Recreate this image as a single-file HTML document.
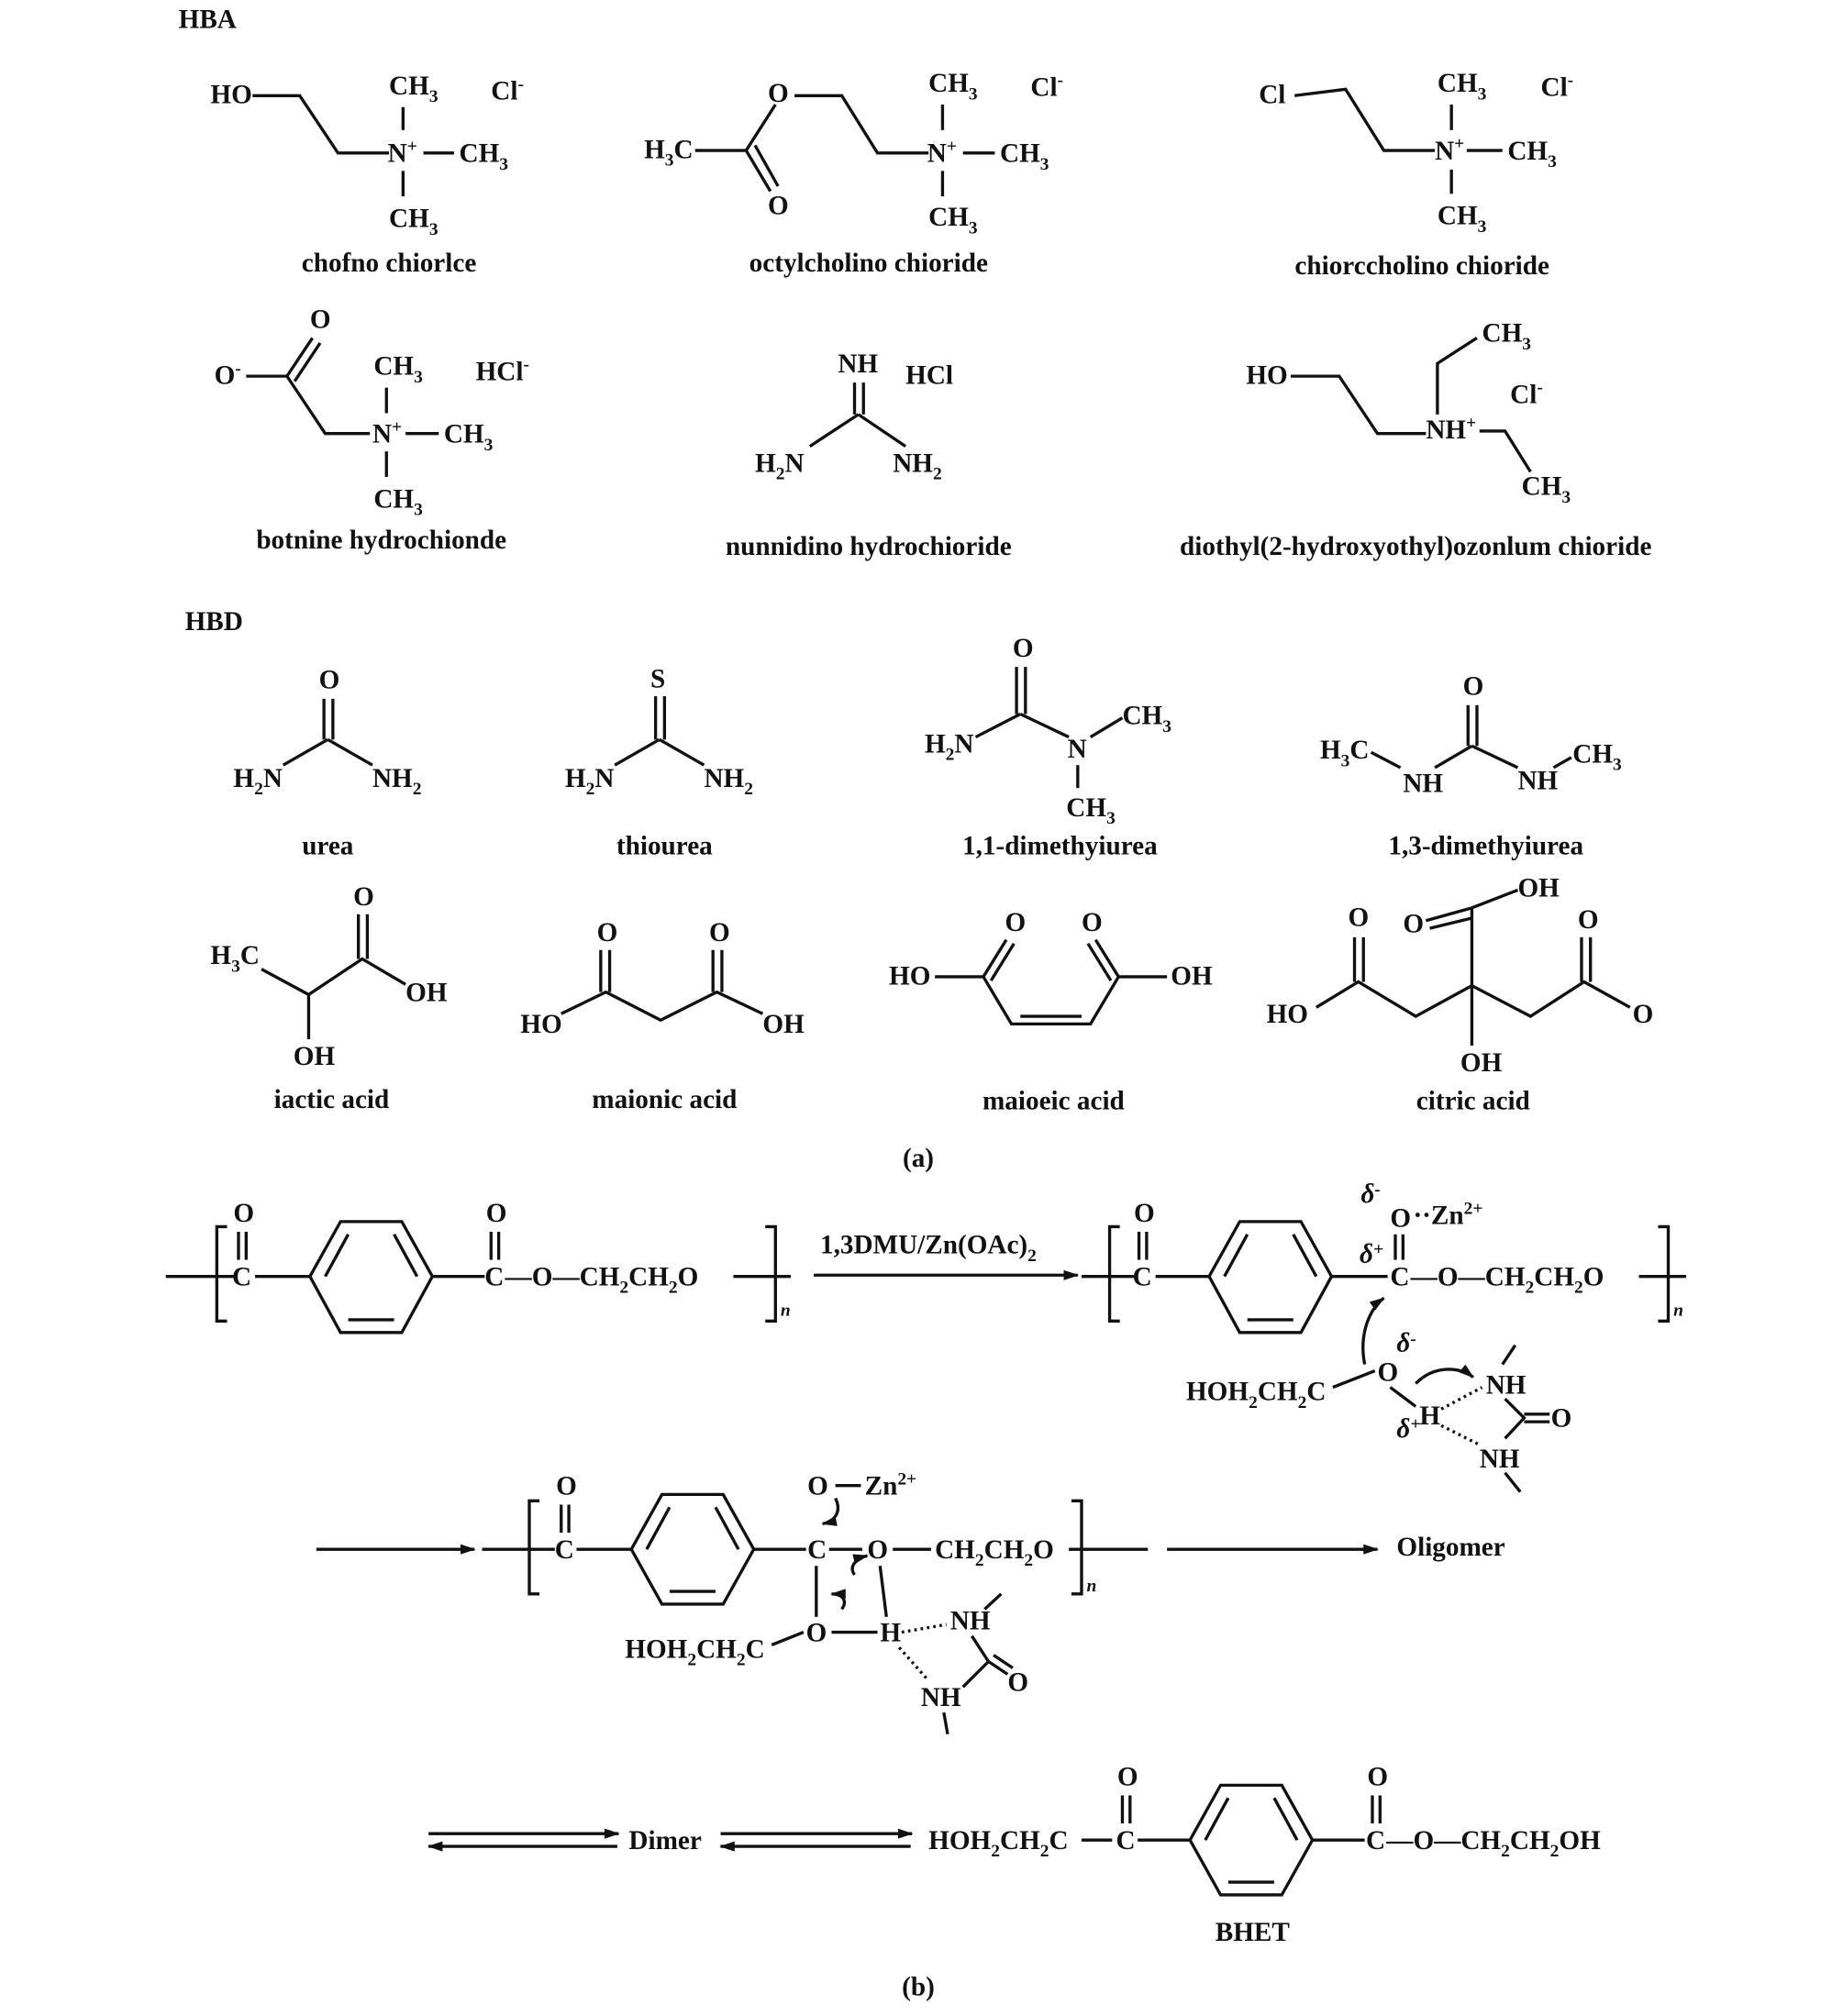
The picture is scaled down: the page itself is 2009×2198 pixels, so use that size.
<!DOCTYPE html>
<html><head><meta charset="utf-8"><style>
html,body{margin:0;padding:0;background:#fff;width:2009px;height:2198px;overflow:hidden}
svg{display:block}
text{font-family:"Liberation Serif",serif;font-size:21px;font-weight:bold;fill:#111}
.s{font-size:14px}
path,line,polyline,polygon{stroke:#111;stroke-width:2.4;fill:none}
</style></head><body>
<svg width="2009" height="2198" viewBox="0 0 1445 1581" preserveAspectRatio="none" xmlns="http://www.w3.org/2000/svg">
<defs><marker id="ah" markerWidth="12" markerHeight="8" refX="11" refY="4" orient="auto" markerUnits="userSpaceOnUse"><path d="M0,0 L12,4 L0,8 z" style="fill:#111;stroke:none"/></marker></defs>

<text x="140" y="22">HBA</text>
<text x="165" y="81">HO</text>
<polyline points="198,75 235,75 265,120 305,120"/>
<text x="304" y="127">N<tspan class="s" dy="-8">+</tspan></text>
<text x="305" y="74">CH<tspan class="s" dy="6">3</tspan></text>
<line x1="316" y1="84" x2="316" y2="102"/><line x1="316" y1="134" x2="316" y2="154"/>
<line x1="332" y1="120" x2="356" y2="120"/>
<text x="360" y="127">CH<tspan class="s" dy="6">3</tspan></text>
<text x="305" y="178">CH<tspan class="s" dy="6">3</tspan></text>
<text x="385" y="78">Cl<tspan class="s" dy="-8">-</tspan></text>
<text x="305" y="213" text-anchor="middle">chofno chiorlce</text>

<text x="505" y="124">H<tspan class="s" dy="6">3</tspan><tspan dy="-6">C</tspan></text>
<line x1="545" y1="118" x2="585" y2="118"/>
<polyline points="585,118 608,82"/>
<line x1="585" y1="118" x2="604" y2="150"/><line x1="592" y1="114" x2="610" y2="146"/>
<text x="602" y="80">O</text><text x="602" y="168">O</text>
<polyline points="623,75 660,75 688,120 728,120"/>
<text x="727" y="127">N<tspan class="s" dy="-8">+</tspan></text>
<text x="728" y="72">CH<tspan class="s" dy="6">3</tspan></text>
<line x1="739" y1="82" x2="739" y2="102"/><line x1="739" y1="134" x2="739" y2="154"/>
<line x1="755" y1="120" x2="780" y2="120"/>
<text x="784" y="127">CH<tspan class="s" dy="6">3</tspan></text>
<text x="728" y="177">CH<tspan class="s" dy="6">3</tspan></text>
<text x="808" y="75">Cl<tspan class="s" dy="-8">-</tspan></text>
<text x="681" y="213" text-anchor="middle">octylcholino chioride</text>

<text x="987" y="81">Cl</text>
<polyline points="1015,75 1055,70 1085,118 1125,118"/>
<text x="1125" y="125">N<tspan class="s" dy="-8">+</tspan></text>
<text x="1127" y="72">CH<tspan class="s" dy="6">3</tspan></text>
<line x1="1138" y1="82" x2="1138" y2="102"/><line x1="1138" y1="133" x2="1138" y2="152"/>
<line x1="1150" y1="118" x2="1178" y2="118"/>
<text x="1182" y="125">CH<tspan class="s" dy="6">3</tspan></text>
<text x="1127" y="176">CH<tspan class="s" dy="6">3</tspan></text>
<text x="1208" y="75">Cl<tspan class="s" dy="-8">-</tspan></text>
<text x="1115" y="215" text-anchor="middle">chiorccholino chioride</text>

<text x="243" y="257">O</text>
<text x="168" y="301">O<tspan class="s" dy="-8">-</tspan></text>
<line x1="193" y1="295" x2="225" y2="295"/>
<line x1="225" y1="295" x2="245" y2="265"/><line x1="231" y1="299" x2="251" y2="269"/>
<polyline points="225,295 255,340 290,340"/>
<text x="292" y="347">N<tspan class="s" dy="-8">+</tspan></text>
<text x="293" y="294">CH<tspan class="s" dy="6">3</tspan></text>
<line x1="303" y1="304" x2="303" y2="324"/><line x1="303" y1="354" x2="303" y2="374"/>
<line x1="318" y1="340" x2="344" y2="340"/>
<text x="348" y="347">CH<tspan class="s" dy="6">3</tspan></text>
<text x="293" y="398">CH<tspan class="s" dy="6">3</tspan></text>
<text x="373" y="298">HCl<tspan class="s" dy="-8">-</tspan></text>
<text x="299" y="430" text-anchor="middle">botnine hydrochionde</text>

<text x="657" y="292">NH</text>
<text x="710" y="301">HCl</text>
<line x1="670" y1="300" x2="670" y2="325"/><line x1="677" y1="300" x2="677" y2="325"/>
<line x1="673" y1="325" x2="635" y2="350"/><line x1="673" y1="325" x2="710" y2="350"/>
<text x="592" y="370">H<tspan class="s" dy="6">2</tspan><tspan dy="-6">N</tspan></text>
<text x="700" y="370">NH<tspan class="s" dy="6">2</tspan></text>
<text x="681" y="435" text-anchor="middle">nunnidino hydrochioride</text>

<text x="977" y="301">HO</text>
<polyline points="1012,295 1050,295 1080,340 1118,340"/>
<text x="1118" y="344">NH<tspan class="s" dy="-8">+</tspan></text>
<polyline points="1127,325 1127,285 1158,265"/>
<text x="1162" y="268">CH<tspan class="s" dy="6">3</tspan></text>
<polyline points="1160,338 1180,338 1200,370"/>
<text x="1193" y="388">CH<tspan class="s" dy="6">3</tspan></text>
<text x="1184" y="316">Cl<tspan class="s" dy="-8">-</tspan></text>
<text x="1110" y="435" text-anchor="middle">diothyl(2-hydroxyothyl)ozonlum chioride</text>

<text x="145" y="494">HBD</text>
<text x="250" y="540">O</text>
<line x1="254" y1="548" x2="254" y2="580"/><line x1="261" y1="548" x2="261" y2="580"/>
<line x1="257" y1="580" x2="222" y2="600"/><line x1="257" y1="580" x2="292" y2="600"/>
<text x="183" y="617">H<tspan class="s" dy="6">2</tspan><tspan dy="-6">N</tspan></text>
<text x="292" y="617">NH<tspan class="s" dy="6">2</tspan></text>
<text x="257" y="670" text-anchor="middle">urea</text>
<text x="510" y="539">S</text>
<line x1="514" y1="546" x2="514" y2="580"/><line x1="521" y1="546" x2="521" y2="580"/>
<line x1="517" y1="580" x2="482" y2="600"/><line x1="517" y1="580" x2="552" y2="600"/>
<text x="443" y="617">H<tspan class="s" dy="6">2</tspan><tspan dy="-6">N</tspan></text>
<text x="552" y="617">NH<tspan class="s" dy="6">2</tspan></text>
<text x="521" y="670" text-anchor="middle">thiourea</text>
<text x="794" y="515">O</text>
<line x1="797" y1="523" x2="797" y2="560"/><line x1="804" y1="523" x2="804" y2="560"/>
<line x1="800" y1="560" x2="765" y2="578"/><line x1="800" y1="560" x2="838" y2="578"/>
<text x="725" y="590">H<tspan class="s" dy="6">2</tspan><tspan dy="-6">N</tspan></text>
<text x="837" y="594">N</text>
<line x1="855" y1="578" x2="880" y2="563"/>
<text x="880" y="568">CH<tspan class="s" dy="6">3</tspan></text>
<line x1="845" y1="600" x2="845" y2="618"/>
<text x="836" y="640">CH<tspan class="s" dy="6">3</tspan></text>
<text x="831" y="670" text-anchor="middle">1,1-dimethyiurea</text>
<text x="1147" y="545">O</text>
<line x1="1151" y1="553" x2="1151" y2="585"/><line x1="1158" y1="553" x2="1158" y2="585"/>
<line x1="1154" y1="585" x2="1125" y2="602"/><line x1="1154" y1="585" x2="1190" y2="602"/>
<text x="1035" y="595">H<tspan class="s" dy="6">3</tspan><tspan dy="-6">C</tspan></text>
<line x1="1075" y1="590" x2="1098" y2="602"/>
<text x="1100" y="621">NH</text><text x="1190" y="619">NH</text>
<line x1="1218" y1="602" x2="1232" y2="594"/>
<text x="1233" y="598">CH<tspan class="s" dy="6">3</tspan></text>
<text x="1165" y="670" text-anchor="middle">1,3-dimethyiurea</text>

<text x="277" y="710">O</text>
<line x1="281" y1="717" x2="281" y2="752"/><line x1="288" y1="717" x2="288" y2="752"/>
<polyline points="205,760 242,780 284,752 318,772"/>
<text x="165" y="756">H<tspan class="s" dy="6">3</tspan><tspan dy="-6">C</tspan></text>
<text x="318" y="785">OH</text>
<line x1="242" y1="780" x2="242" y2="815"/>
<text x="230" y="835">OH</text>
<text x="260" y="869" text-anchor="middle">iactic acid</text>
<text x="468" y="738">O</text><text x="556" y="738">O</text>
<line x1="471" y1="745" x2="471" y2="778"/><line x1="478" y1="745" x2="478" y2="778"/>
<line x1="559" y1="745" x2="559" y2="778"/><line x1="566" y1="745" x2="566" y2="778"/>
<polyline points="440,795 475,778 518,800 562,778 598,795"/>
<text x="408" y="810">HO</text><text x="598" y="810">OH</text>
<text x="521" y="869" text-anchor="middle">maionic acid</text>
<text x="788" y="730">O</text><text x="848" y="730">O</text>
<line x1="771" y1="766" x2="789" y2="737"/><line x1="777" y1="769" x2="795" y2="740"/>
<line x1="877" y1="766" x2="859" y2="737"/><line x1="871" y1="769" x2="853" y2="740"/>
<polyline points="733,766 771,766 793,803 855,803 877,766 915,766"/>
<line x1="800" y1="797" x2="848" y2="797"/>
<text x="697" y="772">HO</text><text x="918" y="772">OH</text>
<text x="826" y="870" text-anchor="middle">maioeic acid</text>
<text x="1100" y="731">O</text><text x="1190" y="703">OH</text>
<text x="1057" y="726">O</text><text x="1237" y="728">O</text>
<line x1="1118" y1="722" x2="1154" y2="712"/><line x1="1121" y1="728" x2="1154" y2="720"/>
<line x1="1154" y1="712" x2="1190" y2="698"/>
<line x1="1154" y1="712" x2="1154" y2="773"/>
<polyline points="1032,790 1065,770 1110,797 1154,773 1200,797 1242,770 1278,790"/>
<line x1="1062" y1="735" x2="1062" y2="770"/><line x1="1069" y1="735" x2="1069" y2="770"/>
<line x1="1240" y1="735" x2="1240" y2="770"/><line x1="1247" y1="735" x2="1247" y2="770"/>
<line x1="1154" y1="773" x2="1154" y2="820"/>
<text x="993" y="802">HO</text><text x="1280" y="802">O</text>
<text x="1145" y="840">OH</text>
<text x="1155" y="870" text-anchor="middle">citric acid</text>

<text x="720" y="915" text-anchor="middle">(a)</text>

<line x1="130" y1="1001" x2="185" y2="1001"/>
<polyline points="178,962 170,962 170,1036 178,1036"/>
<text x="183" y="958">O</text>
<line x1="187" y1="966" x2="187" y2="988"/><line x1="193" y1="966" x2="193" y2="988"/>
<text x="182" y="1008">C</text>
<line x1="200" y1="1001" x2="243" y2="1001"/>
<polygon points="243,1001 267,958 315,958 339,1001 315,1045 267,1045"/>
<line x1="255" y1="1001" x2="273" y2="968"/><line x1="309" y1="968" x2="327" y2="1001"/><line x1="273" y1="1035" x2="309" y2="1035"/>
<line x1="339" y1="1001" x2="380" y2="1001"/>
<text x="381" y="958">O</text>
<line x1="385" y1="966" x2="385" y2="988"/><line x1="391" y1="966" x2="391" y2="988"/>
<text x="380" y="1008">C</text>
<text x="396" y="1008">—O—CH<tspan class="s" dy="6">2</tspan><tspan dy="-6">CH</tspan><tspan class="s" dy="6">2</tspan><tspan dy="-6">O</tspan></text>
<line x1="575" y1="1001" x2="620" y2="1001"/>
<polyline points="600,962 608,962 608,1036 600,1036"/>
<text x="612" y="1032" class="s" font-style="italic">n</text>
<text x="643" y="983">1,3DMU/Zn(OAc)<tspan class="s" dy="6">2</tspan></text>
<line x1="638" y1="1000" x2="845" y2="1000" marker-end="url(#ah)"/>

<line x1="848" y1="1001" x2="890" y2="1001"/>
<polyline points="878,962 870,962 870,1036 878,1036"/>
<text x="889" y="958">O</text>
<line x1="893" y1="966" x2="893" y2="988"/><line x1="899" y1="966" x2="899" y2="988"/>
<text x="888" y="1008">C</text>
<line x1="906" y1="1001" x2="948" y2="1001"/>
<polygon points="948,1001 972,958 1020,958 1044,1001 1020,1045 972,1045"/>
<line x1="960" y1="1001" x2="978" y2="968"/><line x1="1014" y1="968" x2="1032" y2="1001"/><line x1="978" y1="1035" x2="1014" y2="1035"/>
<line x1="1044" y1="1001" x2="1088" y2="1001"/>
<text x="1067" y="943" font-style="italic" font-size="16">δ<tspan class="s" dy="-6">-</tspan></text>
<text x="1090" y="962">O</text><text x="1108" y="960">··Zn<tspan class="s" dy="-8">2+</tspan></text>
<text x="1066" y="990" font-style="italic" font-size="16">δ<tspan class="s" dy="-6">+</tspan></text>
<line x1="1094" y1="968" x2="1094" y2="988"/><line x1="1100" y1="968" x2="1100" y2="988"/>
<text x="1090" y="1008">C</text>
<text x="1106" y="1008">—O—CH<tspan class="s" dy="6">2</tspan><tspan dy="-6">CH</tspan><tspan class="s" dy="6">2</tspan><tspan dy="-6">O</tspan></text>
<line x1="1285" y1="1001" x2="1322" y2="1001"/>
<polyline points="1300,962 1308,962 1308,1036 1300,1036"/>
<text x="1312" y="1032" class="s" font-style="italic">n</text>
<path d="M1070,1070 C1065,1045 1075,1025 1085,1018" marker-end="url(#ah)"/>
<text x="1095" y="1060" font-style="italic" font-size="16">δ<tspan class="s" dy="-6">-</tspan></text>
<text x="930" y="1098">HOH<tspan class="s" dy="6">2</tspan><tspan dy="-6">CH</tspan><tspan class="s" dy="6">2</tspan><tspan dy="-6">C</tspan></text>
<line x1="1045" y1="1088" x2="1078" y2="1075"/>
<text x="1080" y="1083">O</text>
<path d="M1110,1085 C1125,1070 1145,1072 1155,1080" marker-end="url(#ah)"/>
<line x1="1090" y1="1088" x2="1110" y2="1103"/>
<text x="1165" y="1093">NH</text>
<line x1="1178" y1="1070" x2="1188" y2="1055"/>
<text x="1095" y="1127" font-style="italic" font-size="16">δ<tspan class="s" dy="-6">+</tspan></text>
<text x="1113" y="1117">H</text>
<line x1="1130" y1="1105" x2="1162" y2="1088" stroke-dasharray="2,3"/>
<line x1="1130" y1="1118" x2="1160" y2="1133" stroke-dasharray="2,3"/>
<polyline points="1180,1097 1195,1112 1180,1128"/>
<line x1="1195" y1="1109" x2="1215" y2="1109"/><line x1="1195" y1="1115" x2="1215" y2="1115"/>
<text x="1216" y="1119">O</text>
<text x="1160" y="1151">NH</text>
<line x1="1180" y1="1155" x2="1192" y2="1170"/>

<line x1="248" y1="1215" x2="372" y2="1215" marker-end="url(#ah)"/>
<line x1="378" y1="1215" x2="435" y2="1215"/>
<polyline points="423,1177 415,1177 415,1250 423,1250"/>
<text x="436" y="1172">O</text>
<line x1="440" y1="1180" x2="440" y2="1202"/><line x1="446" y1="1180" x2="446" y2="1202"/>
<text x="435" y="1222">C</text>
<line x1="452" y1="1215" x2="495" y2="1215"/>
<polygon points="495,1215 519,1172 567,1172 591,1215 567,1258 519,1258"/>
<line x1="507" y1="1215" x2="525" y2="1182"/><line x1="561" y1="1182" x2="579" y2="1215"/><line x1="525" y1="1248" x2="561" y2="1248"/>
<line x1="591" y1="1215" x2="632" y2="1215"/>
<text x="633" y="1172">O</text><line x1="655" y1="1165" x2="675" y2="1165"/><text x="678" y="1172">Zn<tspan class="s" dy="-8">2+</tspan></text>
<text x="633" y="1222">C</text>
<line x1="650" y1="1215" x2="676" y2="1215"/>
<text x="680" y="1222">O</text>
<line x1="700" y1="1215" x2="730" y2="1215"/>
<text x="733" y="1222">CH<tspan class="s" dy="6">2</tspan><tspan dy="-6">CH</tspan><tspan class="s" dy="6">2</tspan><tspan dy="-6">O</tspan></text>
<line x1="838" y1="1215" x2="900" y2="1215"/>
<polyline points="840,1177 848,1177 848,1250 840,1250"/>
<text x="852" y="1248" class="s" font-style="italic">n</text>
<line x1="915" y1="1215" x2="1080" y2="1215" marker-end="url(#ah)"/>
<text x="1095" y="1220">Oligomer</text>
<line x1="640" y1="1228" x2="640" y2="1268"/>
<line x1="690" y1="1228" x2="695" y2="1268"/>
<path d="M655,1175 C660,1185 655,1193 645,1195" marker-end="url(#ah)"/>
<path d="M670,1235 C665,1228 672,1222 680,1220" marker-end="url(#ah)"/>
<path d="M660,1262 C665,1255 660,1250 652,1250" marker-end="url(#ah)"/>
<text x="490" y="1300">HOH<tspan class="s" dy="6">2</tspan><tspan dy="-6">CH</tspan><tspan class="s" dy="6">2</tspan><tspan dy="-6">C</tspan></text>
<line x1="605" y1="1290" x2="630" y2="1280"/>
<text x="632" y="1287">O</text>
<line x1="652" y1="1280" x2="688" y2="1280"/>
<text x="690" y="1287">H</text>
<line x1="707" y1="1280" x2="742" y2="1274" stroke-dasharray="2,3"/>
<text x="745" y="1278">NH</text>
<line x1="772" y1="1262" x2="785" y2="1250"/>
<line x1="705" y1="1292" x2="728" y2="1318" stroke-dasharray="2,3"/>
<polyline points="762,1283 775,1303 755,1323"/>
<line x1="775" y1="1303" x2="790" y2="1313"/><line x1="779" y1="1298" x2="794" y2="1308"/>
<text x="790" y="1326">O</text>
<text x="722" y="1338">NH</text>
<line x1="740" y1="1343" x2="743" y2="1360"/>

<line x1="336" y1="1438" x2="485" y2="1438" marker-end="url(#ah)"/>
<line x1="484" y1="1448" x2="336" y2="1448" marker-end="url(#ah)"/>
<text x="493" y="1450">Dimer</text>
<line x1="565" y1="1438" x2="715" y2="1438" marker-end="url(#ah)"/>
<line x1="714" y1="1448" x2="565" y2="1448" marker-end="url(#ah)"/>
<text x="728" y="1450">HOH<tspan class="s" dy="6">2</tspan><tspan dy="-6">CH</tspan><tspan class="s" dy="6">2</tspan><tspan dy="-6">C</tspan></text>
<line x1="848" y1="1443" x2="872" y2="1443"/>
<text x="876" y="1400">O</text>
<line x1="880" y1="1408" x2="880" y2="1430"/><line x1="886" y1="1408" x2="886" y2="1430"/>
<text x="875" y="1450">C</text>
<line x1="892" y1="1443" x2="933" y2="1443"/>
<polygon points="933,1443 957,1400 1005,1400 1029,1443 1005,1486 957,1486"/>
<line x1="945" y1="1443" x2="963" y2="1410"/><line x1="999" y1="1410" x2="1017" y2="1443"/><line x1="963" y1="1476" x2="999" y2="1476"/>
<line x1="1029" y1="1443" x2="1070" y2="1443"/>
<text x="1072" y="1400">O</text>
<line x1="1076" y1="1408" x2="1076" y2="1430"/><line x1="1082" y1="1408" x2="1082" y2="1430"/>
<text x="1071" y="1450">C</text>
<text x="1087" y="1450">—O—CH<tspan class="s" dy="6">2</tspan><tspan dy="-6">CH</tspan><tspan class="s" dy="6">2</tspan><tspan dy="-6">OH</tspan></text>
<text x="982" y="1522" text-anchor="middle">BHET</text>
<text x="720" y="1565" text-anchor="middle">(b)</text>
</svg>
</body></html>
